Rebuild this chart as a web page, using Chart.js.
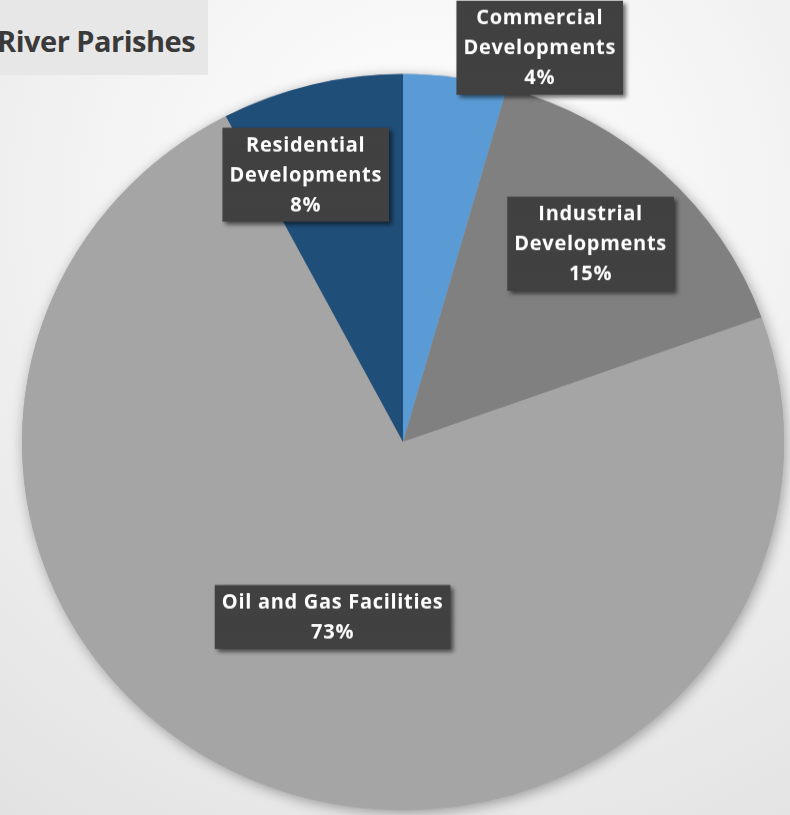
<!DOCTYPE html>
<html>
<head>
<meta charset="utf-8">
<script src="https://cdn.jsdelivr.net/npm/chart.js@4.4.0/dist/chart.umd.min.js"></script>
<style>
    html, body { margin: 0; padding: 0; }
    body {
        width: 790px; height: 815px; overflow: hidden; position: relative;
        background: radial-gradient(circle at 55% 25%, #ffffff 0%, #f3f3f3 45%, #e2e2e2 100%);
    }
    #title-box {
        position: absolute; left: 0; top: 0; width: 208px; height: 75px;
        background: #e7e7e7; overflow: hidden;
    }
    #title-box span {
        position: absolute; left: -3px; top: 21px;
        font: bold 29px "Open Sans", sans-serif; letter-spacing: -0.5px;
        color: #3a3a3a; white-space: nowrap;
    }
    /* the source pie is a touch flatter than round */
    #wrap {
        position: absolute; left: 0; top: 0; width: 790px; height: 844px;
        transform: scaleY(0.966); transform-origin: 0 0;
    }
</style>
</head>
<body>
<div id="title-box"><span>River Parishes</span></div>
<div id="wrap"><canvas id="pieChart"></canvas></div>
<script>
// Data
const categories = [
    ['Commercial', 'Developments'],
    ['Industrial', 'Developments'],
    ['Oil and Gas Facilities'],
    ['Residential', 'Developments']
]
const shares = [4.4, 15.1, 72.8, 7.7]
const sliceColours = ['#5b9bd5', '#808080', '#a5a5a5', '#1f4e79']

// where each label box sits: fraction of radius and angle shift (deg) from slice middle
const labelRadius = [1.13, 0.73, 0.51, 0.77]
const labelShift = [10.6, -0.6, 0, -5.5]
const flatten = 0.966

// small dark texture for label boxes
function makePattern(ctx) {
    let c = document.createElement('canvas')
    c.width = 2; c.height = 2
    let p = c.getContext('2d')
    p.fillStyle = '#3d3d3d'; p.fillRect(0, 0, 2, 2)
    p.fillStyle = '#464646'; p.fillRect(0, 0, 1, 1); p.fillRect(1, 1, 1, 1)
    return ctx.createPattern(c, 'repeat')
}

// soft shadow under the whole pie
const pieShadow = {
    id: 'pieShadow',
    beforeDatasetsDraw(chart) {
        let arc = chart.getDatasetMeta(0).data[0]
        if (!arc) return
        let ctx = chart.ctx
        ctx.save()
        ctx.shadowColor = 'rgba(0,0,0,0.35)'
        ctx.shadowBlur = 14
        ctx.shadowOffsetX = 2
        ctx.shadowOffsetY = 3
        ctx.fillStyle = '#a5a5a5'
        ctx.beginPath()
        ctx.arc(arc.x, arc.y, arc.outerRadius, 0, Math.PI * 2)
        ctx.fill()
        ctx.restore()
    }
}

// dark label boxes with white text
const boxLabels = {
    id: 'boxLabels',
    afterDatasetsDraw(chart) {
        let ctx = chart.ctx
        let meta = chart.getDatasetMeta(0)
        let total = shares.reduce((a, b) => a + b, 0)
        let pattern = makePattern(ctx)
        const lineH = 30
        ctx.save()
        ctx.font = 'bold 20px "Open Sans", sans-serif'
        ctx.letterSpacing = '0.7px'
        meta.data.forEach((arc, i) => {
            let lines = categories[i].concat([Math.round(shares[i] / total * 100) + '%'])
            let mid = (arc.startAngle + arc.endAngle) / 2 + labelShift[i] * Math.PI / 180
            let r = arc.outerRadius * labelRadius[i]
            let cx = arc.x + Math.cos(mid) * r
            let cy = arc.y + Math.sin(mid) * r
            let w = Math.max(...lines.map(l => ctx.measureText(l).width)) + 14
            let h = lines.length * lineH + 4
            ctx.save()
            ctx.translate(cx, cy)
            ctx.scale(1, 1 / flatten)
            ctx.save()
            ctx.shadowColor = 'rgba(0,0,0,0.55)'
            ctx.shadowBlur = 4
            ctx.shadowOffsetX = 3
            ctx.shadowOffsetY = 3
            ctx.fillStyle = pattern
            ctx.fillRect(-w / 2, -h / 2, w, h)
            ctx.restore()
            ctx.fillStyle = '#ffffff'
            ctx.textAlign = 'center'
            ctx.textBaseline = 'middle'
            lines.forEach((l, k) => {
                ctx.fillText(l, 0, -h / 2 + 3 + lineH * (k + 0.5))
            })
            ctx.restore()
        })
        ctx.restore()
    }
}

const data = {
    labels: categories,
    datasets: [{
        data: shares,
        backgroundColor: sliceColours,
        borderWidth: 0,
        hoverOffset: 0
    }]
}

const config = {
    type: 'pie',
    data,
    options: {
        responsive: true,
        maintainAspectRatio: false,
        animation: false,
        layout: {
            padding: { left: 22, right: 6, top: 76.6, bottom: 5.4 }
        },
        plugins: {
            legend: { display: false },
            tooltip: { enabled: false }
        }
    },
    plugins: [pieShadow, boxLabels]
}

const myChart = new Chart(document.getElementById('pieChart'), config)
</script>
</body>
</html>
